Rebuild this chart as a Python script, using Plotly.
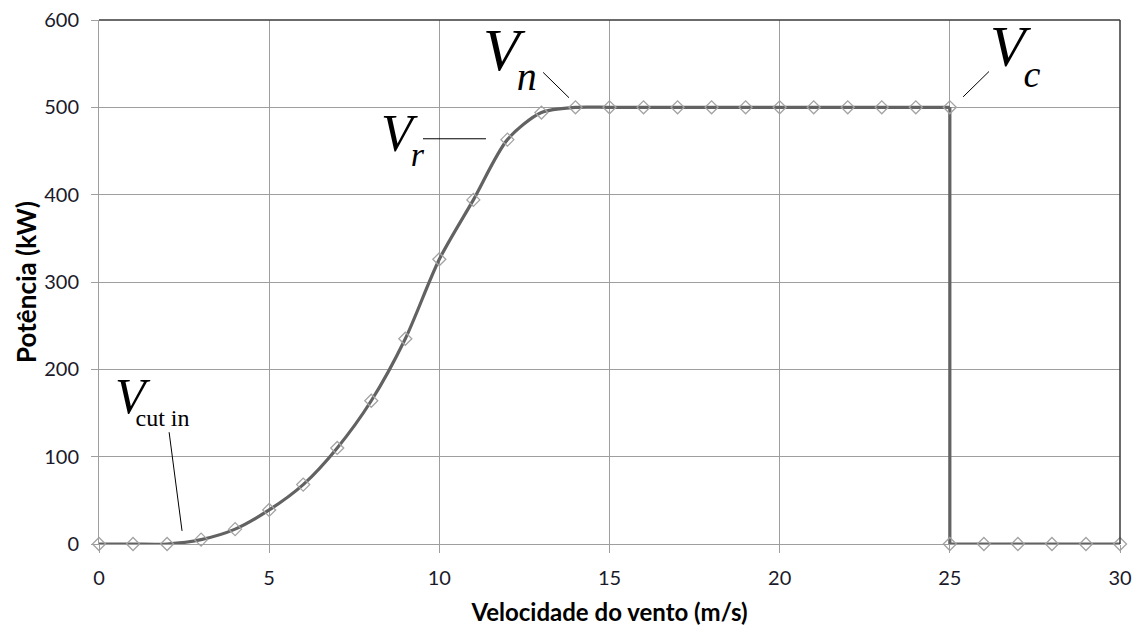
import plotly.graph_objects as go

# Wind turbine power curve: wind speed (m/s) vs. output power (kW)
wind_speed = [0, 1, 2, 3, 4, 5, 6, 7, 8, 9, 10, 11, 12, 13, 14, 15, 16, 17, 18, 19,
              20, 21, 22, 23, 24, 25, 25, 26, 27, 28, 29, 30]
power_kw = [0, 0, 0, 5, 17, 39, 68, 110, 164, 235, 326, 394, 463, 494, 500, 500, 500, 500, 500, 500,
            500, 500, 500, 500, 500, 500, 0, 0, 0, 0, 0, 0]
cutout_index = 25  # first point at the cut-out speed

x_ticks = [0, 5, 10, 15, 20, 25, 30]
y_ticks = [0, 100, 200, 300, 400, 500, 600]

LINE = "#626262"
GRID = "#9e9e9e"
MARK = "#a3a3a3"
SERIF = "Liberation Serif, Times New Roman, serif"
SANS = "Lato, Open Sans, sans-serif"

fig = go.Figure()

# smooth rising part of the curve up to the cut-out speed
fig.add_trace(go.Scatter(
    x=wind_speed[:cutout_index + 1], y=power_kw[:cutout_index + 1],
    mode="lines", line=dict(color=LINE, width=3.2, shape="spline", smoothing=0.8),
    hoverinfo="skip", showlegend=False))
# abrupt drop at cut-out and zero output afterwards
fig.add_trace(go.Scatter(
    x=wind_speed[cutout_index:], y=power_kw[cutout_index:],
    mode="lines", line=dict(color=LINE, width=3.2),
    hoverinfo="skip", showlegend=False))
# measured points
fig.add_trace(go.Scatter(
    x=wind_speed, y=power_kw, mode="markers",
    marker=dict(symbol="diamond-open", size=10, color=MARK, line=dict(width=1.3, color=MARK)),
    showlegend=False, cliponaxis=False))

# characteristic speeds: italic V followed by a lowered, smaller subscript
labels = [
    dict(sub="cut in", italic=False, pos=(0.41, 166), size=50, sub_size=24, drop=13, tuck=10,
         lead=((2.06, 128), (2.44, 15))),
    dict(sub="r", italic=True, pos=(8.23, 464), size=52, sub_size=34, drop=15, tuck=2,
         lead=((9.52, 464), (11.37, 464))),
    dict(sub="n", italic=True, pos=(11.23, 556), size=60, sub_size=40, drop=20, tuck=3,
         lead=((13.05, 540), (13.81, 511))),
    dict(sub="c", italic=True, pos=(26.13, 560), size=58, sub_size=38, drop=21, tuck=2,
         lead=((26.15, 541), (25.39, 512))),
]
for lb in labels:
    sub = f"<i>{lb['sub']}</i>" if lb["italic"] else lb["sub"]
    text = (f"<span style='letter-spacing:-{lb['tuck']}px'><i>V</i></span>"
            f"<span style='font-size:{lb['sub_size']}px;"
            f"baseline-shift:-{lb['drop']}px'>{sub}</span>")
    fig.add_annotation(x=lb["pos"][0], y=lb["pos"][1], text=text, showarrow=False,
                       xanchor="left", yanchor="middle",
                       font=dict(family=SERIF, size=lb["size"], color="#000"))
    (x0, y0), (x1, y1) = lb["lead"]
    fig.add_shape(type="line", x0=x0, y0=y0, x1=x1, y1=y1,
                  line=dict(color="#000", width=1))

# darker frame on top and right of the plotting area
fig.add_shape(type="line", xref="paper", yref="paper", x0=0, y0=1, x1=1, y1=1,
              line=dict(color="#3a3a3a", width=1.5))
fig.add_shape(type="line", xref="paper", yref="paper", x0=1, y0=0, x1=1, y1=1,
              line=dict(color="#3a3a3a", width=1.5))

fig.update_xaxes(range=[0, 30], tickvals=x_ticks, showgrid=True, gridcolor=GRID, gridwidth=1,
                 showline=True, linecolor=GRID, linewidth=1, zeroline=False, automargin=False,
                 ticks="outside", ticklen=8, tickcolor=GRID, ticklabelstandoff=8,
                 tickfont=dict(family=SANS, size=20, color="#1a1a2a"),
                 title=dict(text="<b>Velocidade do vento (m/s)</b>", standoff=16,
                            font=dict(family=SANS, size=24, color="#000")))
fig.update_yaxes(range=[0, 600], tickvals=y_ticks, showgrid=True, gridcolor=GRID, gridwidth=1,
                 showline=True, linecolor=GRID, linewidth=1, zeroline=False, automargin=False,
                 ticks="outside", ticklen=7, tickcolor=GRID, ticklabelstandoff=8,
                 tickfont=dict(family=SANS, size=20, color="#1a1a2a"),
                 title=dict(text="<b>Potência (kW)</b>", standoff=0,
                            font=dict(family=SANS, size=26, color="#000")))

fig.update_layout(width=1137, height=626, margin=dict(l=99, r=17, t=20, b=82),
                  plot_bgcolor="white", paper_bgcolor="white")

fig.write_html("out.html")
